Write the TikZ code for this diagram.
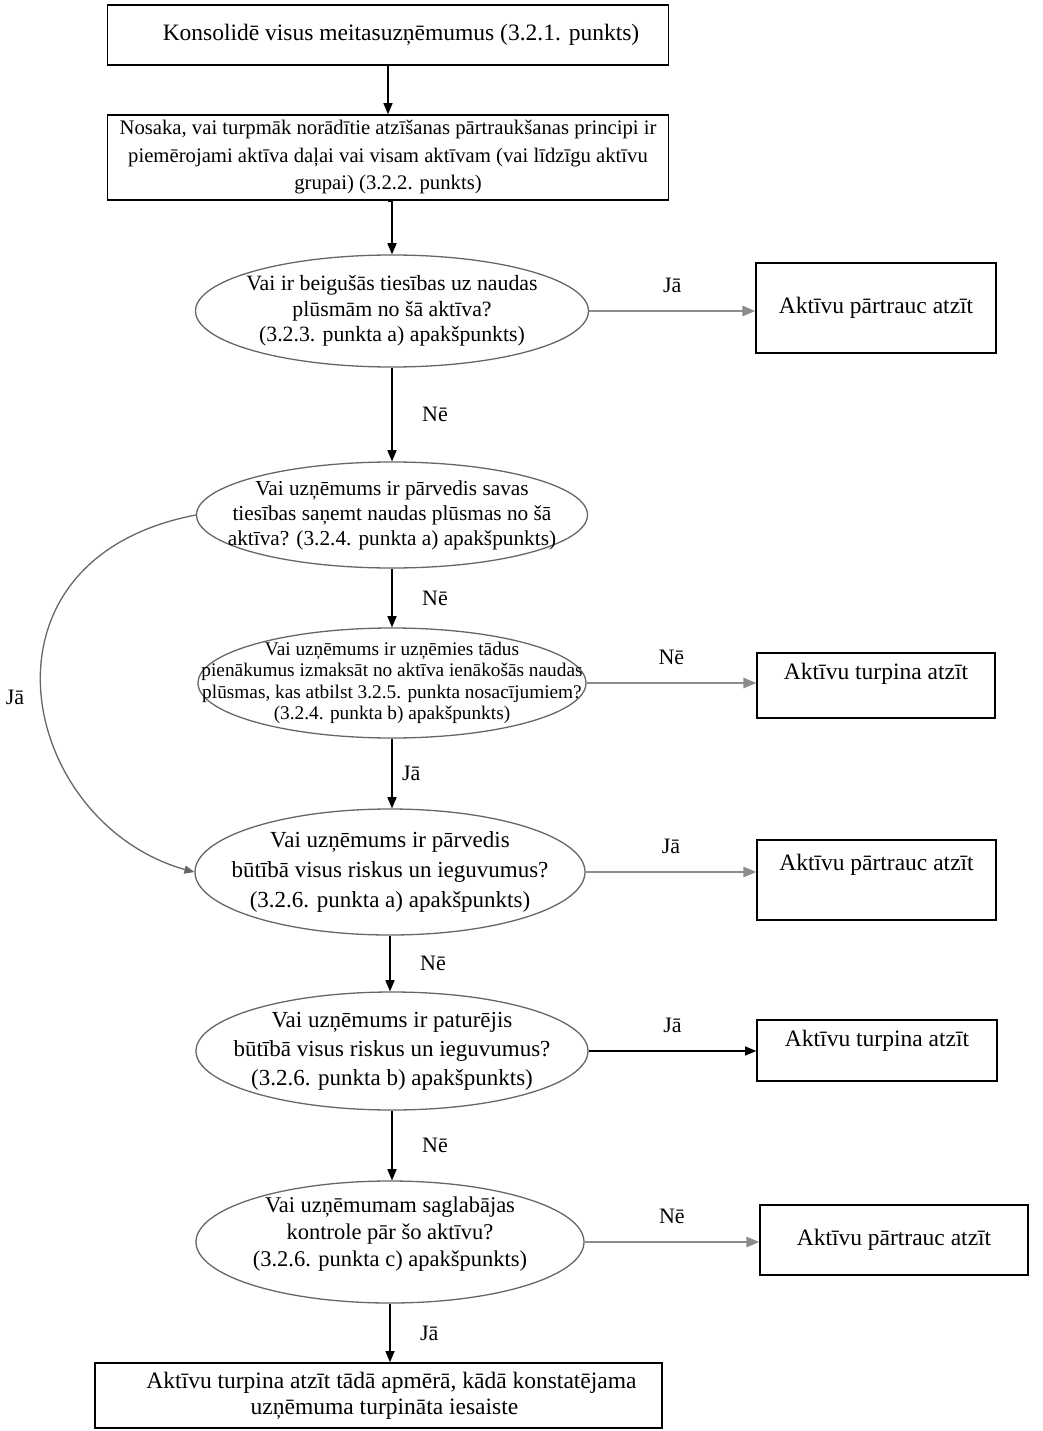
\documentclass[tikz,border=0pt]{standalone}
\usepackage{fontspec}
\setmainfont{Liberation Serif}
\usetikzlibrary{arrows,shapes.geometric}

\begin{document}
\begin{tikzpicture}[x=1pt,y=-1pt,line width=1.6pt,
  box/.style={draw,rectangle,inner sep=0pt,align=center,font=\fontsize{23.5}{28}\selectfont},
  question/.style={draw=black!60,line width=1.3pt,ellipse,inner sep=0pt,minimum width=391,minimum height=112},
  qtext/.style={align=center,inner sep=0pt,font=\fontsize{22}{26}\selectfont},
  down/.style={-triangle 45},
  side/.style={-triangle 45,black!45,line width=2pt},
  answer/.style={black,font=\fontsize{22}{26}\selectfont}]
  \useasboundingbox (0,0) rectangle (1042,1431);

  \node[box,minimum width=561,minimum height=60] (start) at (388,35)
    {\hspace*{26pt}Konsolidē visus meitasuzņēmumus (3.2.1. punkts)};
  \node[box,minimum width=561,minimum height=85,font=\fontsize{20.7}{27.5}\selectfont] (scope) at (388,157.5)
    {Nosaka, vai turpmāk norādītie atzīšanas pārtraukšanas principi ir\\
     piemērojami aktīva daļai vai visam aktīvam (vai līdzīgu aktīvu\\
     grupai) (3.2.2. punkts)};

  \node[question,minimum width=393] (expired) at (392,311) {};
  \node[qtext,font=\fontsize{21.8}{25.5}\selectfont] (expiredtext) at (expired)
    {Vai ir beigušās tiesības uz naudas\\ plūsmām no šā aktīva?\\
     (3.2.3. punkta a) apakšpunkts)};
  \node[question,minimum height=106] (transfer) at (392,515) {};
  \node[qtext,font=\fontsize{21.3}{25}\selectfont] (transfertext) at (transfer)
    {Vai uzņēmums ir pārvedis savas\\ tiesības saņemt naudas plūsmas no šā\\
     aktīva? (3.2.4. punkta a) apakšpunkts)};
  \node[question,minimum width=388,minimum height=110] (passthru) at (392,683) {};
  \node[qtext,font=\fontsize{19.3}{21.5}\selectfont] (passthrutext) at (passthru)
    {Vai uzņēmums ir uzņēmies tādus\\ pienākumus izmaksāt no aktīva ienākošās naudas\\
     plūsmas, kas atbilst 3.2.5. punkta nosacījumiem?\\ (3.2.4. punkta b) apakšpunkts)};
  \node[question,minimum width=390,minimum height=126] (risks) at (390,872) {};
  \node[qtext,font=\fontsize{23}{30}\selectfont] (riskstext) at (risks)
    {Vai uzņēmums ir pārvedis\\ būtībā visus riskus un ieguvumus?\\
     (3.2.6. punkta a) apakšpunkts)};
  \node[question,minimum width=392,minimum height=118] (kept) at (392,1051) {};
  \node[qtext,font=\fontsize{23}{29}\selectfont] (kepttext) at (kept)
    {Vai uzņēmums ir paturējis\\ būtībā visus riskus un ieguvumus?\\
     (3.2.6. punkta b) apakšpunkts)};
  \node[question,minimum width=388,minimum height=122] (control) at (390,1242) {};
  \node[qtext,font=\fontsize{22.5}{27}\selectfont] (controltext) at (390,1234)
    {Vai uzņēmumam saglabājas\\ kontrole pār šo aktīvu?\\
     (3.2.6. punkta c) apakšpunkts)};

  \node[box,minimum width=240,minimum height=90] (stop1) at (876,308)
    {Aktīvu pārtrauc atzīt};
  \node[box,minimum width=238,text height=17pt,text depth=30pt,inner ysep=9pt] (keep1) at (876,685.5)
    {Aktīvu turpina atzīt};
  \node[box,minimum width=239,text height=17pt,text depth=37pt,inner ysep=13pt] (stop2) at (876.5,880)
    {Aktīvu pārtrauc atzīt};
  \node[box,minimum width=240,text height=17pt,text depth=26pt,inner ysep=9pt] (keep2) at (877,1050.5)
    {Aktīvu turpina atzīt};
  \node[box,minimum width=268,minimum height=70] (stop3) at (894,1240)
    {Aktīvu pārtrauc atzīt};
  \node[box,minimum width=567,minimum height=65,font=\fontsize{23.5}{26}\selectfont] (partial) at (378.5,1395.5)
    {\hspace*{26pt}Aktīvu turpina atzīt tādā apmērā, kādā konstatējama\\
     \hspace*{12pt}uzņēmuma turpināta iesaiste};

  \draw[down] (start.south) -- (start.south |- scope.north);
  \draw[down] (scope.south) -- (scope.south -| expired.north) -- (expired.north);
  \draw[down] (expired.south) -- (transfer.north)
    node[answer,midway,right=26pt] {Nē};
  \draw[down] (transfer.south) -- (passthru.north)
    node[answer,midway,right=26pt] {Nē};
  \draw[down] (passthru.south) -- (passthru.south |- risks.north)
    node[answer,midway,right=6pt] {Jā};
  \draw[down] (risks.south) -- (risks.south |- kept.north)
    node[answer,midway,right=26pt] {Nē};
  \draw[down] (kept.south) -- (kept.south |- control.north)
    node[answer,midway,right=26pt] {Nē};
  \draw[down] (control.south) -- (control.south |- partial.north)
    node[answer,midway,right=26pt] {Jā};

  \draw[side] (expired.east) -- (expired.east -| stop1.west)
    node[answer,midway,above=14pt] {Jā};
  \draw[side] (passthru.east) -- (passthru.east -| keep1.west)
    node[answer,midway,above=14pt] {Nē};
  \draw[side] (risks.east) -- (risks.east -| stop2.west)
    node[answer,midway,above=14pt] {Jā};
  \draw[down] (kept.east) -- (kept.east -| keep2.west)
    node[answer,midway,above=14pt] {Jā};
  \draw[side] (control.east) -- (control.east -| stop3.west)
    node[answer,midway,above=14pt] {Nē};

  \draw[side,black!60,line width=1.3pt] (transfer.west) .. controls (-40,560) and (20,830) .. (risks.west);
  \node[answer] (yesloop) at (15,697) {Jā};
\end{tikzpicture}
\end{document}
